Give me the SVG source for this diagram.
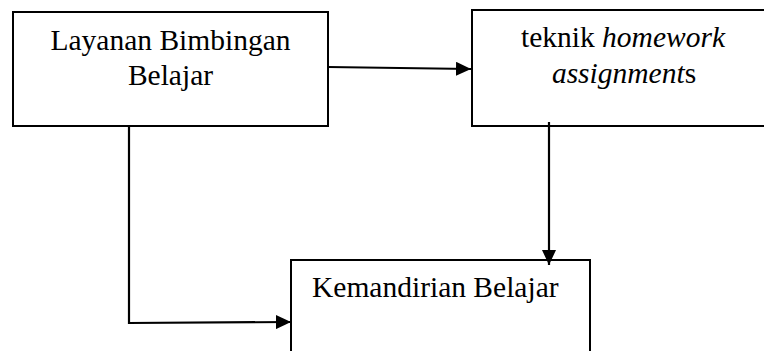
<svg xmlns="http://www.w3.org/2000/svg" width="764" height="351" viewBox="0 0 764 351">
<style>
.box{fill:#fff;stroke:#000;stroke-width:2}
.t{font-family:"Liberation Serif","Times New Roman",serif;font-size:29.5px;fill:#000}
.i{font-family:"Liberation Serif","Times New Roman","DejaVu Serif",serif;font-style:italic}
.c{fill:none;stroke:#000;stroke-width:2.2}
</style>
<defs>
<marker id="ah" markerWidth="15" markerHeight="14" refX="15" refY="7" orient="auto" markerUnits="userSpaceOnUse">
<path d="M0,0 L15,7 L0,14 Z" fill="#000"/>
</marker>
</defs>
<rect width="764" height="351" fill="#fff"/>
<g id="n1">
<rect class="box" x="13" y="12" width="315" height="114"/>
<text class="t" x="170.5" y="50" text-anchor="middle">Layanan Bimbingan</text>
<text class="t" x="170.5" y="85" text-anchor="middle">Belajar</text>
</g>
<g id="n2">
<rect class="box" x="472" y="10" width="300" height="116"/>
<text class="t" x="623" y="47" text-anchor="middle">teknik <tspan class="i">homework</tspan></text>
<text class="t" x="624" y="83" text-anchor="middle"><tspan class="i">assignment</tspan>s</text>
</g>
<g id="n3">
<rect class="box" x="291" y="260" width="299" height="100"/>
<text class="t" x="312" y="297">Kemandirian Belajar</text>
</g>
<g id="connectors">
<path class="c" d="M328,67 L471,69" marker-end="url(#ah)"/>
<path class="c" d="M549,122 L549,265" marker-end="url(#ah)"/>
<path class="c" d="M129,126 L129,323 L291,322" marker-end="url(#ah)"/>
</g>
</svg>
